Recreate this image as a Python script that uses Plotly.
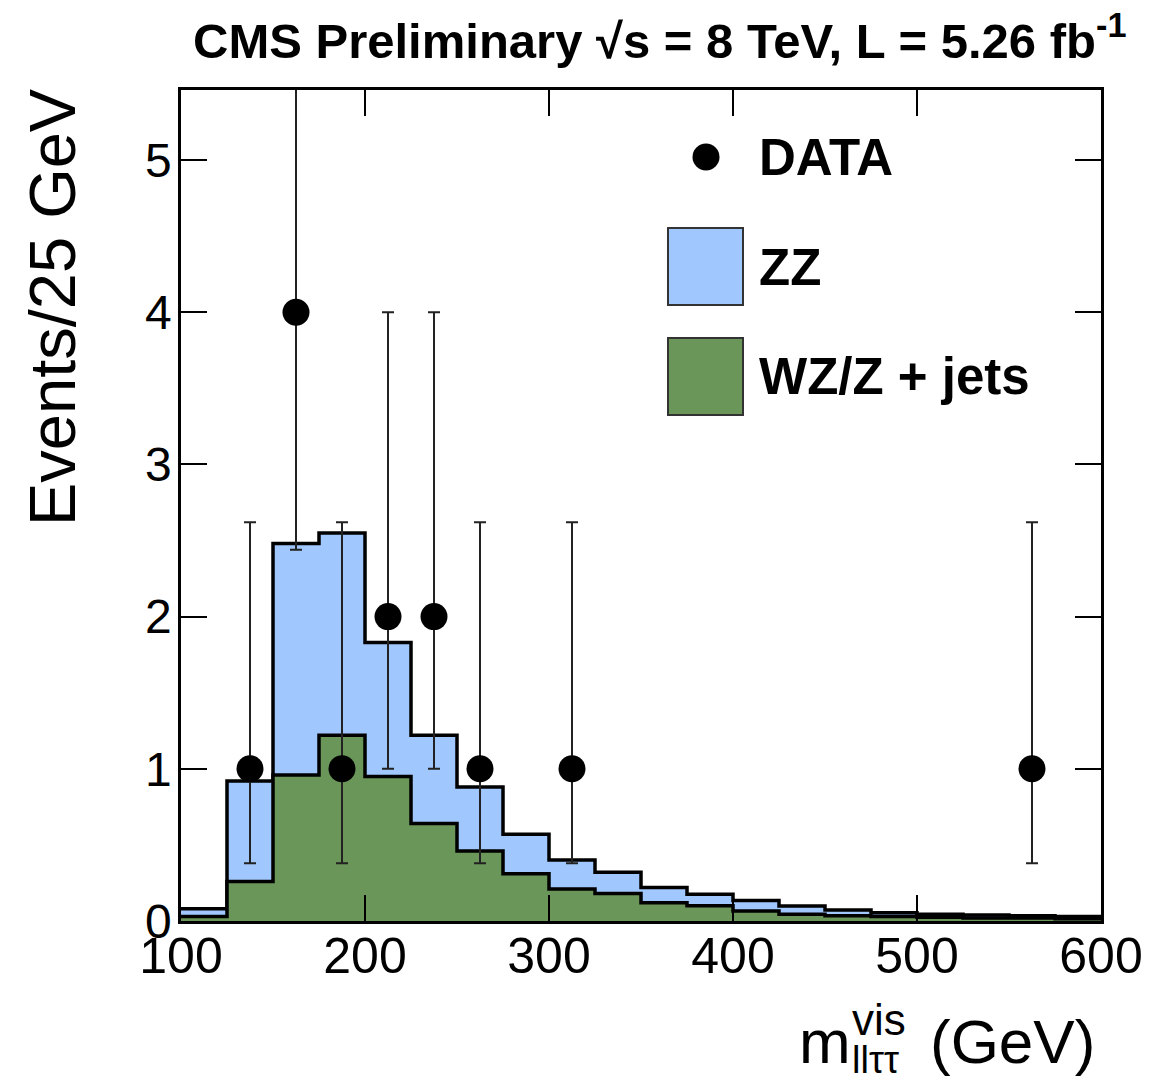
import plotly.graph_objects as go

# ---- data ----
bin_edges = [100, 125, 150, 175, 200, 225, 250, 275, 300, 325, 350,
             375, 400, 425, 450, 475, 500, 525, 550, 575, 600]
wz_zjets = [0.03, 0.26, 0.96, 1.22, 0.95, 0.64, 0.46, 0.31, 0.21, 0.18,
            0.12, 0.10, 0.066, 0.045, 0.035, 0.03, 0.025, 0.02, 0.02, 0.015]
zz = [0.05, 0.66, 1.52, 1.33, 0.88, 0.58, 0.42, 0.26, 0.19, 0.14,
      0.10, 0.075, 0.069, 0.053, 0.037, 0.025, 0.02, 0.02, 0.015, 0.015]
data_x = [137.5, 162.5, 187.5, 212.5, 237.5, 262.5, 312.5, 562.5]
data_y = [1, 4, 1, 2, 2, 1, 1, 1]
data_err_hi = [1.62, 2.56, 1.62, 2.0, 2.0, 1.62, 1.62, 1.62]
data_err_lo = [0.62, 1.56, 0.62, 1.0, 1.0, 0.62, 0.62, 0.62]
x_ticks = [100, 200, 300, 400, 500, 600]
y_ticks = [0, 1, 2, 3, 4, 5]

BLUE = "#a0c8fe"
GREEN = "#6a9759"
FONT = "Liberation Sans"

stack_total = [a + b for a, b in zip(wz_zjets, zz)]

def step(vals):
    return bin_edges, list(vals) + [vals[-1]]

fig = go.Figure()
sx, sy = step(stack_total)
fig.add_trace(go.Scatter(x=sx, y=sy, mode="lines", line=dict(shape="hv", color="black", width=3.5),
                         fill="tozeroy", fillcolor=BLUE, showlegend=False, hoverinfo="skip"))
gx, gy = step(wz_zjets)
fig.add_trace(go.Scatter(x=gx, y=gy, mode="lines", line=dict(shape="hv", color="black", width=3.5),
                         fill="tozeroy", fillcolor=GREEN, showlegend=False, hoverinfo="skip"))
fig.add_trace(go.Scatter(
    x=data_x, y=data_y, mode="markers",
    marker=dict(color="black", size=27, symbol="circle"),
    error_y=dict(type="data", symmetric=False, array=data_err_hi, arrayminus=data_err_lo,
                 color="#222222", thickness=2, width=6),
    showlegend=False, cliponaxis=False))

W, H = 1173, 1084
L, R, T, B = 181, 72, 90, 163
pw, ph = W - L - R, H - T - B

def px(x):
    return (x - L) / pw

def py(y):
    return (H - B - y) / ph

fig.update_layout(
    width=W, height=H,
    margin=dict(l=L, r=R, t=T, b=B),
    paper_bgcolor="white", plot_bgcolor="white",
    font=dict(family=FONT, color="black"),
    showlegend=False,
)
fig.update_xaxes(range=[100, 600], tickvals=x_ticks, ticks="inside", ticklen=26, tickwidth=2,
                 tickcolor="black", showline=True, linecolor="black", linewidth=2.5, mirror="ticks",
                 showgrid=False, zeroline=False, tickfont=dict(size=50, family=FONT),
                 ticklabelstandoff=-11)
fig.update_yaxes(range=[0, 5.46], tickvals=y_ticks, ticks="inside", ticklen=26, tickwidth=2,
                 tickcolor="black", showline=True, linecolor="black", linewidth=2.5, mirror="ticks",
                 showgrid=False, zeroline=False, tickfont=dict(size=48, family=FONT),
                 ticklabelstandoff=-3)

ann = []
ann.append(dict(text="<b>CMS Preliminary √s = 8 TeV, L = 5.26 fb<sup>-1</sup></b>",
                x=px(659), y=py(37), xref="paper", yref="paper", xanchor="center", yanchor="middle",
                showarrow=False, font=dict(size=49, family=FONT)))
ann.append(dict(text="Events/25 GeV", textangle=-90, x=px(52), y=py(307), xref="paper", yref="paper",
                xanchor="center", yanchor="middle", showarrow=False, font=dict(size=65, family=FONT)))
ann.append(dict(text="m", x=px(853), y=py(1041), xref="paper", yref="paper", xanchor="right",
                yanchor="middle", showarrow=False, font=dict(size=62, family=FONT)))
ann.append(dict(text="vis", x=px(850), y=py(1020), xref="paper", yref="paper", xanchor="left",
                yanchor="middle", showarrow=False, font=dict(size=44, family=FONT)))
ann.append(dict(text="llττ", x=px(850), y=py(1060), xref="paper", yref="paper", xanchor="left",
                yanchor="middle", showarrow=False, font=dict(size=38, family=FONT)))
ann.append(dict(text="(GeV)", x=px(1097), y=py(1041), xref="paper", yref="paper", xanchor="right",
                yanchor="middle", showarrow=False, font=dict(size=62, family=FONT)))
# legend
ann.append(dict(text="<b>DATA</b>", x=px(757), y=py(157), xref="paper", yref="paper", xanchor="left",
                yanchor="middle", showarrow=False, font=dict(size=51, family=FONT)))
ann.append(dict(text="<b>ZZ</b>", x=px(757), y=py(267), xref="paper", yref="paper", xanchor="left",
                yanchor="middle", showarrow=False, font=dict(size=51, family=FONT)))
ann.append(dict(text="<b>WZ/Z + jets</b>", x=px(757), y=py(377), xref="paper", yref="paper",
                xanchor="left", yanchor="middle", showarrow=False, font=dict(size=51, family=FONT)))
fig.update_layout(annotations=ann)

shapes = []
shapes.append(dict(type="circle", xref="paper", yref="paper", x0=px(706 - 13.5), x1=px(706 + 13.5),
                   y0=py(157 + 13.5), y1=py(157 - 13.5), fillcolor="black", line=dict(width=0)))
shapes.append(dict(type="rect", xref="paper", yref="paper", x0=px(668), x1=px(743), y0=py(305), y1=py(228),
                   fillcolor=BLUE, line=dict(color="#333333", width=2)))
shapes.append(dict(type="rect", xref="paper", yref="paper", x0=px(668), x1=px(743), y0=py(415), y1=py(338),
                   fillcolor=GREEN, line=dict(color="#333333", width=2)))
fig.update_layout(shapes=shapes)

fig.write_html("out.html", config={"displayModeBar": False},
               post_script="document.body.style.margin='0px';document.body.style.overflow='hidden';")
